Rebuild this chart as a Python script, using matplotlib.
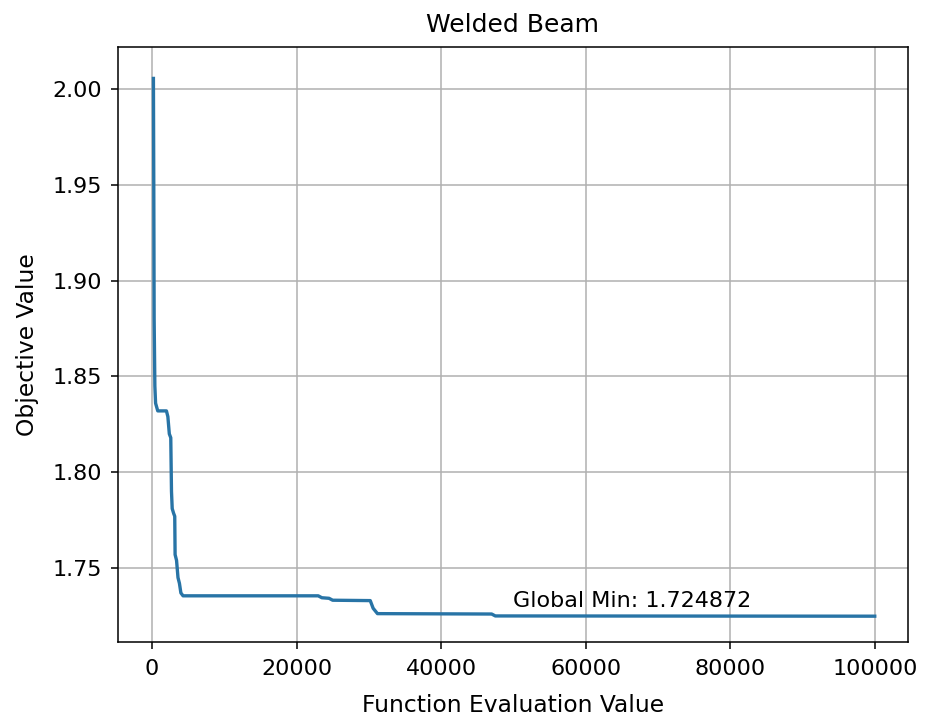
import matplotlib
matplotlib.use("Agg")
import matplotlib.pyplot as plt

evals = [200, 250, 300, 400, 500, 800, 2000, 2200, 2400, 2600, 2700, 2800, 3000,
         3150, 3200, 3400, 3600, 3800, 4000, 4300, 23000, 23500, 24500, 25000,
         30200, 30600, 31200, 47000, 47500, 100000]
best = [2.0055, 1.95, 1.88, 1.845, 1.836, 1.832, 1.832, 1.829, 1.820, 1.818, 1.790,
        1.781, 1.7785, 1.777, 1.757, 1.754, 1.745, 1.742, 1.737, 1.7355, 1.7355,
        1.7345, 1.7342, 1.7332, 1.7330, 1.729, 1.7262, 1.7260, 1.7250, 1.724872]
global_min = 1.724872

fig = plt.figure(figsize=(9.27, 7.16), dpi=100)
ax = fig.add_axes([118/927, 1-642/716, (908-118)/927, (642-47)/716])
ax.plot(evals, best, color='#2874a6', lw=2.4)
ax.set_xlim(-4700, 104600)
ax.set_ylim(1.7114, 2.0219)
ax.set_xticks([0, 20000, 40000, 60000, 80000, 100000])
ax.set_yticks([1.75, 1.80, 1.85, 1.90, 1.95, 2.00])
ax.grid(True, color='#b0b0b0', lw=1.1)
ax.tick_params(labelsize=16, length=5, width=1.1)
ax.tick_params(axis='x', pad=7)
ax.tick_params(axis='y', pad=6.5)
for s in ax.spines.values():
    s.set_linewidth(1.1)
ax.set_title('Welded Beam', fontsize=18, pad=11)
ax.set_xlabel('Function Evaluation Value', fontsize=16.8, labelpad=11)
ax.set_ylabel('Objective Value', fontsize=16.8, labelpad=10)
ax.text(50000, 1.7298, f'Global Min: {global_min:.6f}', fontsize=16)
fig.savefig('out.png', dpi=100)
